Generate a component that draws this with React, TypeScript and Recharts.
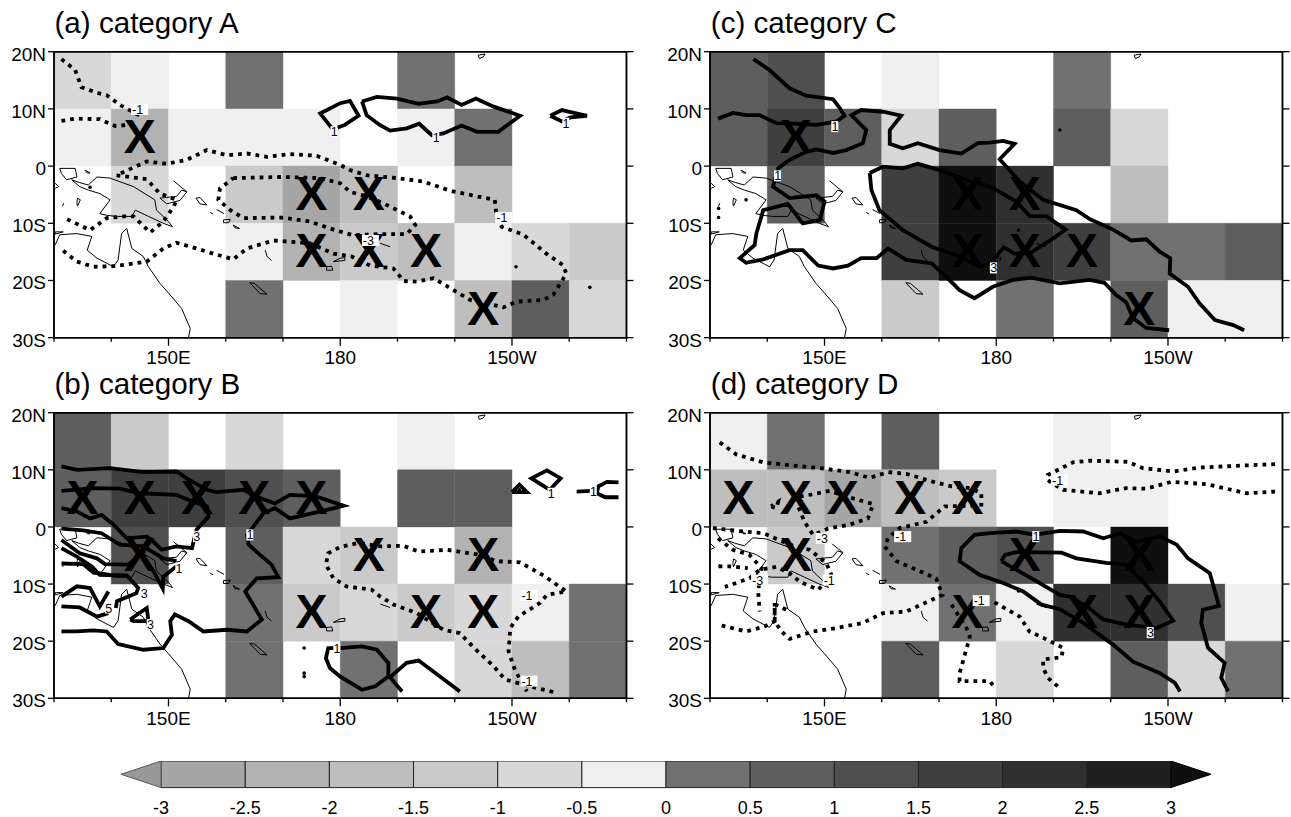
import React from "react";
import { ComposedChart, Line, ReferenceArea, Scatter, XAxis, YAxis } from "recharts";

type Pt = [number, number];
type Label = [number, number, string];

const FONT = "'Liberation Sans', Arial, sans-serif";

// colour bar
const barEdges = [-3, -2.5, -2, -1.5, -1, -0.5, 0, 0.5, 1, 1.5, 2, 2.5, 3];
const barShades = ["#a6a6a6", "#b2b2b2", "#bebebe", "#cacaca", "#d8d8d8", "#f0f0f0", "#717171", "#5e5e5e", "#4f4f4f", "#3f3f3f", "#303030", "#1f1f1f"];
const belowShade = "#999999";
const aboveShade = "#0f0f0f";

// grid
const lonStarts = [130, 140, 150, 160, 170, 180, 190, 200, 210, 220];
const latTops = [20, 10, 0, -10, -20];
const lonTicks = [130, 140, 150, 160, 170, 180, 190, 200, 210, 220, 230];
const latTicks = [20, 10, 0, -10, -20, -30];
const lonNames: Record<number, string> = { 150: "150E", 180: "180", 210: "150W" };
const latNames: Record<number, string> = { 20: "20N", 10: "10N", 0: "0", [-10]: "10S", [-20]: "20S", [-30]: "30S" };

const n = null;
const cellsA = [
  [-0.75, -0.25, n, 0.25, n, n, 0.25, n, n, n],
  [-0.25, -2.25, -0.25, -0.25, -0.25, n, -0.25, 0.25, n, n],
  [n, -0.75, n, -1.25, -2.75, -1.75, n, -1.75, n, n],
  [n, n, n, -0.25, -2.25, -1.25, -1.75, -0.25, -0.75, -1.25],
  [n, n, n, 0.25, n, -0.25, n, -1.75, 0.75, -0.75],
];
const cellsB = [
  [0.75, -1.25, n, -0.75, n, n, -0.25, n, n, n],
  [0.75, 1.75, 1.75, 1.25, 0.75, n, 0.75, 0.75, n, n],
  [n, 1.25, n, 0.75, -0.75, -1.25, n, -2.25, n, n],
  [n, n, n, 0.25, -1.25, -0.75, -1.25, -0.75, -0.25, 0.25],
  [n, n, n, 0.25, n, 0.25, n, -0.75, -1.75, 0.25],
];
const cellsC = [
  [0.75, 1.25, n, -0.25, n, n, 0.25, n, n, n],
  [0.75, 1.75, 0.75, -0.75, 0.75, n, 0.75, -0.75, n, n],
  [n, 0.75, n, 1.75, 3.5, 2.25, n, -1.75, n, n],
  [n, n, n, 1.75, 3.5, 2.25, 1.75, 0.25, 0.25, 0.75],
  [n, n, n, -1.25, n, 0.25, n, 0.75, -0.25, -0.25],
];
const cellsD = [
  [-0.25, 0.25, n, 0.75, n, n, -0.25, n, n, n],
  [-1.75, -1.75, -2.75, -1.75, -1.25, n, -0.25, -0.25, n, n],
  [n, -1.25, n, 0.25, 0.75, 1.25, n, 3.5, n, n],
  [n, n, n, -0.25, 0.25, -0.25, 2.25, 2.25, 1.25, -0.25],
  [n, n, n, 0.75, n, -0.75, n, 0.75, -0.75, 0.25],
];

// significance marks
const marksA: Pt[] = [[145, 5], [175, -5], [185, -5], [175, -15], [185, -15], [195, -15], [205, -25]];
const marksB: Pt[] = [[135, 5], [145, 5], [155, 5], [165, 5], [175, 5], [145, -5], [185, -5], [205, -5], [175, -15], [195, -15], [205, -15]];
const marksC: Pt[] = [[145, 5], [175, -5], [185, -5], [175, -15], [185, -15], [195, -15], [205, -25]];
const marksD: Pt[] = [[135, 5], [145, 5], [153.2, 5], [165, 5], [175, 5], [145, -5], [185, -5], [205, -5], [175, -15], [195, -15], [205, -15]];

// coast outlines (lon, lat)
const coast: Pt[][] = [
  [[130.2, -13.8], [131, -12], [134, -11.8], [136.6, -12.3], [135.8, -14.7], [137.5, -16.1], [140.4, -17.6], [141.2, -16.4], [141.8, -11.8], [142.7, -10.9], [143.6, -14.4], [145.6, -15.8], [146.5, -17.6], [148.5, -20.5], [150, -22.2], [152.3, -24.9], [153.8, -28.4], [153.5, -30]],
  [[133.1, -2.4], [134.5, -2.9], [136, -3.3], [137.5, -1.9], [139.8, -2.1], [143.9, -3.6], [147.6, -5.9], [147.9, -7.7], [150, -9.7], [150.7, -10.6], [149.1, -10], [146.5, -8.8], [144.2, -7.7], [143.6, -8.8], [140.9, -8.8], [139.2, -8.6], [138, -8.3], [139.8, -5.9], [138, -4.8], [136, -4.2], [134.5, -3.6], [133.1, -2.4]],
  [[131, -0.4], [133.7, -0.4], [134, -1.9], [132.2, -2.4], [131.3, -1.3], [131, -0.4]],
  [[135.4, -0.7], [136.3, -1.2], [135.8, -1.2], [135.4, -0.7]],
  [[134.1, -5.6], [134.6, -5.9], [134.1, -7], [134, -6.4], [134.1, -5.6]],
  [[131.5, -7], [131.7, -6.5]],
  [[130.2, -11.5], [131.6, -11.5], [130.2, -11.9], [130.2, -11.5]],
  [[130.2, -3], [130.8, -3.6], [130.2, -3.9]],
  [[148.5, -5.6], [151.4, -5.3], [152.3, -4.2], [153.2, -4.5], [152, -6], [149.7, -6.6], [148.5, -5.6]],
  [[150.9, -2.6], [153.2, -4.5]],
  [[154.8, -5.6], [155.5, -5.5], [156.7, -6.8], [155.5, -6.6], [154.8, -5.6]],
  [[157.3, -8.1], [157.8, -8.4]],
  [[158.4, -7.6], [159.7, -8.3]],
  [[159.6, -9.4], [160.8, -9.3], [160.5, -9.9], [159.6, -9.9], [159.6, -9.4]],
  [[161.3, -10.3], [162.4, -10.9], [161.6, -10.8], [161.3, -10.3]],
  [[166.9, -14.7], [167.2, -15.8], [168, -16.5]],
  [[164.2, -20.4], [165, -20.5], [167.2, -22.4], [166, -22.3], [164.2, -20.4]],
  [[177.6, -17.6], [178.5, -17.5], [178.7, -18.2], [177.6, -18.2], [177.6, -17.6]],
  [[178.8, -16.7], [180, -16.1], [180.8, -16], [180.8, -16.5], [178.8, -16.7]],
  [[187, -13.5], [188.7, -14.1]],
  [[204.1, 19.4], [205.3, 19.6], [205, 19.1], [204.3, 18.8], [204.1, 19.4]],
];

// panel (a)
const dottedA: Pt[][] = [
  [[131.3, 18.7], [133.7, 16.8], [134.8, 13.8], [137.5, 12.8], [139.2, 12.4], [141.5, 10.7], [145.6, 8.5]],
  [[131.3, 7.9], [133.7, 8.3], [138, 8.2], [140.7, 7], [143.9, 7.3]],
  [[131.6, -14.8], [134, -16.7], [136.9, -17.6], [140.4, -17.5], [146.2, -16.7], [149.1, -14.4], [151.4, -13.4], [154.9, -14.4], [157.8, -15.3], [161.3, -16.3], [163.7, -14.4], [168.3, -13], [174.7, -13.5], [178.8, -15.3], [182, -15.8], [185.2, -17.4], [189.3, -17.9], [191.1, -20.1], [193.4, -20.2], [196.3, -19.6], [200.3, -22], [202.7, -23.4], [205.6, -24], [208.5, -24.7], [210.8, -23.7], [215.5, -23.4], [217.2, -22.5], [219.5, -18.8], [218.9, -17.3], [216, -15.3], [212, -12], [208.2, -10.6], [207.3, -8.8], [207, -5.9], [203.9, -5.3], [199.2, -4.3], [194.5, -2.7], [189.9, -2.1], [184.6, -1.6], [181.7, -0.7], [180, 0.2], [175.9, 1.8], [171.2, 2.1], [167.2, 1.6], [163.7, 2.2], [160.2, 1.9], [156.7, 2.8], [153.2, 1.1], [149.7, 0.4], [146.2, 0.8], [140.9, -1.6], [146.2, -2.3], [148.5, -4.8], [151.4, -5.9], [150.9, -7.1], [149.1, -9.7], [146.8, -11.6], [143.9, -8.8], [142.1, -8.8], [139.2, -9.1], [136.3, -11.2], [131.9, -9.1]],
  [[161.3, -2.1], [170.1, -1.9], [176.5, -2.1], [180, -3], [181.7, -4.5], [184.6, -5.3], [187.5, -6.5], [192.2, -8.8], [193.1, -10.3], [191.6, -11.9], [186.4, -11.9], [182.3, -12.1], [179.1, -11.2], [174.7, -9.7], [170.1, -9], [163.1, -9.1], [160.8, -7.7], [158.7, -5.9], [159, -3.9], [161.3, -2.1]],
];
const solidA: Pt[][] = [
  [[178.8, 6.3], [176.5, 9.2], [180, 11], [181.7, 11.4], [183.2, 8.8], [180.8, 7.2], [179.5, 6.7]],
  [[183.8, 11.3], [186.4, 12.1], [189.9, 11.8], [193.7, 10.9], [196.9, 11.3], [198.7, 12], [201.2, 10.7], [203.7, 11.8], [206.8, 10.4], [211.4, 8.8], [207.6, 6], [203.9, 6], [201.2, 7.1], [198, 5.7], [196, 5.4], [193.8, 7.4], [191.6, 6.6], [188.7, 6.2], [186.9, 7.2], [184.6, 8.9], [183.8, 11.3]],
  [[216.7, 8.8], [218.7, 9.8], [223.1, 8.8], [220.2, 8.5], [218.7, 7.8], [216.7, 8.8]],
];
const labelsA: Label[] = [[144.7, 9.9, "-1"], [178.9, 6, "1"], [196.7, 5, "1"], [219.4, 7.5, "1"], [185, -13, "-3"], [208.3, -9, "-1"]];
const specksA: Pt[] = [[136.3, -3.7], [210.7, -17.6], [223.6, -21.2]];

// panel (b)
const dottedB: Pt[][] = [
  [[217.2, -28.9], [213.1, -27.9], [208.8, -26.7], [206.8, -24.4], [203.3, -21.1], [200.9, -18.6], [198, -18], [193.4, -15.1], [189.3, -13.6], [187, -12.2], [185.5, -11], [181.1, -10.4], [178.8, -9], [177.5, -6.6], [177.9, -4.6], [180, -3.5], [183.2, -2.8], [187, -3.4], [191, -3.3], [193.7, -4.3], [198.6, -4], [203.9, -4.8], [207.3, -6], [211.4, -6.2], [215.5, -8.5], [219.5, -11.3], [216.1, -11.9], [214.9, -13.3], [211.1, -15.7], [209.7, -17.7], [209.4, -21.8], [210.5, -25], [212.6, -28.8]],
];
const solidB: Pt[][] = [
  [[131.3, 10.6], [134, 10], [139.8, 10.3], [145.6, 9.6], [151.4, 9.7], [153.2, 8.5], [156.7, 6.5], [158.4, 6.1], [163.1, 6.5], [165.4, 5.3], [168.6, 4.1], [171.2, 5.6], [175.6, 5.4], [180.6, 3.7], [177.3, 2.9], [171.2, 1.5], [168.6, 3.3], [166.6, 2.4], [163.7, -1.4], [164, -3.1], [166, -4.9], [168, -6.6], [169.2, -8.8], [165.4, -9], [163.4, -11.3], [166.3, -16.2], [163.7, -18.3], [160.2, -18], [156.1, -18.3], [153.5, -16.5], [151.1, -15.3], [150.3, -16.5], [150.6, -18.9], [149.1, -21.2], [145.6, -21.5], [141.2, -20.5], [139.2, -18.3], [136.9, -18.1], [134, -18.3], [131.3, -18.3]],
  [[131.3, 6.3], [136.9, 6.8], [141.5, 6.7], [145, 5.9], [151.4, 5.6], [154.3, 4.4], [156.7, 3.6], [157, 1.8], [154.9, -0.5], [154.1, -3.7], [151.4, -3.4], [148.8, -4], [147.4, -2.6], [146.2, -1.7], [142.7, -2], [140.4, 0.4], [138.3, 2.1], [136.3, 1.5], [134, 2.7], [131.3, 3.3]],
  [[131.3, -0.3], [135.1, -0.6], [138.3, -1.1], [141.5, -3.1], [145.6, -3.4], [149.1, -5.5], [151.4, -6]],
  [[131.3, -2.3], [134.5, -4.6], [137.5, -5.5], [138.9, -6.5], [143, -6.6], [145, -4.9], [146.8, -1.7]],
  [[143, -1.7], [145, -4.6], [147.4, -7.8], [149, -10.8], [149.1, -8.7], [151.4, -6.9]],
  [[131.3, -3.7], [134, -5.2], [136.6, -6.9], [138, -8.4], [142.7, -8.5], [144.7, -10.7], [144.4, -11.6], [141, -13], [140.8, -14.2]],
  [[131.3, -6.4], [135.1, -6.5], [136.9, -8], [139.8, -8.4]],
  [[131.3, -12.2], [134, -10.4], [136.3, -10.7], [138, -13.9], [139.5, -11.3]],
  [[131.3, -13.9], [134.5, -14.1], [137.5, -15.7], [139.5, -15.1]],
  [[143.3, -16.2], [146.2, -14.2], [146.5, -16.5], [143.9, -16.5], [143.3, -16.2]],
  [[179.4, -21.2], [177.9, -21.2], [177.5, -23], [178.2, -24.7], [180, -26.2], [183.8, -28.5], [186.1, -27.9], [188.4, -26.2], [188.4, -23.8], [186.4, -21.5], [183.8, -20.9], [180, -21.2]],
  [[190.8, -28.8], [188.7, -26.3], [191.6, -23.8], [193.7, -23.4], [200.9, -28.8]],
  [[210, 6.1], [211.3, 7.4], [212.6, 6.1], [210, 6.1]],
  [[216.6, 6.5], [213.4, 8.5], [216.1, 9.9], [218.5, 8.5], [216.6, 6.5]],
  [[221.3, 6.2], [223.8, 6.3]],
  [[228.6, 7.8], [226.6, 7.9], [225.1, 7.1], [224.8, 5.9], [226.3, 5.2], [228.6, 5.2]],
];
const labelsB: Label[] = [[154.9, -1.7, "3"], [164.2, -1.4, "1"], [151.8, -7.2, "1"], [145.7, -11.6, "3"], [139.5, -14.2, "5"], [146.8, -17.1, "3"], [179.4, -21.2, "1"], [216.8, 5.9, "1"], [224.2, 6.2, "1"], [212.7, -12, "-1"], [212.7, -27, "-1"]];
const specksB: Pt[] = [[173.7, -21.2], [173.7, -26.2], [173.7, -25.6], [211.3, 6.5]];

// panel (c)
const solidC: Pt[][] = [
  [[137.6, 18.7], [140.4, 16.8], [143.9, 13.6], [146.8, 12.3], [151.5, 11.7], [152.7, 10.1], [153.5, 8.8], [152.1, 7.8], [148.6, 7.2], [145.1, 7.4], [141.6, 7.5], [138.7, 8.9], [136.3, 8.9], [134, 9.3], [131.4, 8.3]],
  [[223.3, -28.7], [221.4, -27.8], [218.2, -26.9], [215.5, -24], [213.5, -21.1], [210.3, -18.8], [210.4, -16.1], [208.6, -15], [206.2, -12.8], [203.6, -13], [200.4, -11.1], [196.4, -9.3], [194, -7.7], [188.2, -5.9], [184.1, -2.7], [180.6, 1.2], [183.2, 3.9], [181.2, 4.4], [178.9, 4.1], [176.8, 4], [173.9, 2.2], [170.1, 2.8], [166.3, 4], [163.7, 3.1], [161.4, 3.9], [161.4, 6.3], [163.4, 8.8], [160.2, 9.5], [156.4, 9.8], [154.7, 8.9], [157.3, 6.3], [156.7, 4], [153.8, 2.8], [151.5, 2.3], [148.6, 2.9], [146.8, 2.5], [143.9, 1.1], [141.9, -0.4], [141, -3.6], [143.9, -5.6], [148.6, -5.1], [150, -6.2], [149.2, -9.4], [146.2, -10], [143.6, -6.6], [139.3, -7.7], [138.1, -11.8], [137.8, -13.8], [135.2, -16.1], [136.3, -16.9], [139.3, -16.3], [143.9, -14.7], [146.2, -14.7], [148.9, -17.4], [151.5, -17.9], [154.1, -17.4], [156.4, -16.1], [159.1, -16.1], [161.1, -14.4], [164.3, -16.4], [168.7, -17], [170.7, -18.8], [173.6, -21.7], [176.2, -23.1], [179.4, -21.1], [182.9, -19.9], [186.1, -19.5], [191.1, -20.5], [196.3, -19.9], [198.9, -20.4], [201, -22.6], [202.7, -23.8], [203.9, -26.6], [206.2, -28.3], [210.2, -28.7]],
  [[157.9, -1.2], [160.2, -0.1], [163.7, -0.4], [166.3, 0.4], [170.1, -0.7], [174.8, -2.4], [178.9, -3.6], [180.6, -4.5], [183.5, -6.2], [185.8, -8.7], [188.8, -8.8], [192.1, -11.1], [189.7, -12.8], [186.1, -15.1], [183.2, -15.3], [181.3, -14.2], [178.9, -17], [177.1, -17.6], [173.6, -15.8], [168.7, -14.1], [163.7, -11.2], [159.6, -7.7], [158.2, -4.2], [157.9, -1.2]],
];
const labelsC: Label[] = [[151.8, 6.9, "1"], [141.8, -1.7, "1"], [179.5, -17.8, "3"]];
const specksC: Pt[] = [[191.1, 6.3], [136.3, -5.9], [131.5, -9], [183.9, -11.2], [131.5, -7.4]];

// panel (d)
const dottedD: Pt[][] = [
  [[131.7, 14.8], [134.6, 12.7], [139.3, 11.3], [145.1, 10.7], [150, 10.2], [154.4, 9.6], [157.9, 8.6], [161.1, 9.6], [164.3, 9.3], [169, 7.9], [172.2, 7.1], [175.4, 6.8], [177.4, 5.9], [177.4, 3.9], [175.4, 3.7], [171, 3.6], [167.8, 0.9], [163.1, -0.2], [161.1, -2], [160.5, -3.4], [162.6, -6], [166.1, -7.5], [169.5, -9], [170.6, -11.9], [167.8, -13.2], [164.3, -14.8], [160.2, -15.1], [156.7, -16.8], [152.1, -17.7], [148, -18.3], [143.9, -19.6], [142.5, -18.3], [141.3, -16.5], [141.3, -13.3], [141.3, -16.5], [139.6, -17.4], [136.3, -18.3], [131.4, -17.1]],
  [[140.7, 3.6], [141.6, 3.3], [141.9, 4.4], [140.7, 3.6]],
  [[145.7, 5.3], [150.9, 6.3], [155, 5], [158.5, 4], [157.6, 1.5], [154.4, 0.4], [150.6, -0.3], [148, -1.4], [146.5, 0.9], [145.4, 3.6]],
  [[130.5, -0.2], [134.9, -0.7], [139.3, -1.1], [143.9, -3.1], [147.4, -4], [150.3, -6.3], [151.2, -8.4], [148.9, -11], [145.7, -9.6], [143.9, -8.1], [141.6, -7], [138.7, -7.5], [136.9, -9], [132.6, -10.5]],
  [[131.4, -2], [134, -4], [136.9, -4.9], [139, -7.2], [138.4, -11.3], [138.7, -14.8]],
  [[131.5, -6.9], [133.4, -6.9], [136.6, -7.2]],
  [[143.3, -14.5], [141.5, -13.6]],
  [[172.2, -13.6], [174.8, -17.7], [175.4, -19.2], [174.5, -22.4], [173.6, -25.6], [173.6, -27], [178.9, -27], [179.8, -28.2]],
  [[179.7, -13.2], [184.1, -15.7], [185.8, -18.3], [188.8, -19.7], [191.7, -21.2], [191.4, -22.8], [188.2, -23.2], [188.2, -24.7], [189, -26.4], [191.4, -28.5]],
  [[228.7, 11], [222, 10.7], [215.5, 10.4], [210.9, 9.7], [205.6, 10.3], [203, 11.4], [196.3, 11.6], [193.4, 11.3], [190.2, 9.7], [189, 9.1], [189, 8.2], [190.2, 7.4], [191.7, 6.5], [198, 5.9], [202.7, 6.8], [206.2, 6.7], [210.6, 7.9], [216.7, 7.5], [223.7, 5.9], [228.7, 6.2]],
];
const solidD: Pt[][] = [
  [[212.1, -28.8], [211.2, -27.3], [208.6, -25.6], [203.9, -23.6], [200.4, -20.6], [195.2, -16.8], [191.1, -14.4], [187.9, -13.6], [184.7, -11.3], [181.2, -9.8], [177.1, -8.4], [173.6, -6], [173.9, -3.7], [176.2, -1.4], [178.9, -1.1], [183.5, -0.8], [186.7, -1.4], [191.1, -0.7], [195.2, -0.8], [198.7, -2], [201.6, -1.1], [204.5, -2.6], [208.6, -1.7], [211.5, -3.1], [213.5, -5.5], [217.3, -8.1], [217.9, -10.2], [218.9, -13.8], [216.1, -14.5], [215.8, -16.8], [217, -21.2], [219.9, -23.8], [219.3, -26.4], [220.5, -28.8]],
  [[180.9, -6], [181.5, -4.9], [183.5, -4.4], [191.4, -4.5], [194, -5.5], [199.2, -6.3], [202.7, -6.6], [205.6, -9.5], [208.5, -13], [210.9, -16.4], [208, -17.7], [202.7, -17.1], [198.7, -16.2], [195.8, -13.9], [192.8, -12.2], [191.1, -11.9], [187, -9.5], [183, -7.2], [180.9, -6]],
];
const labelsD: Label[] = [[149.7, -2, "-3"], [163.4, -1.7, "-1"], [150.9, -9.3, "-1"], [138.4, -9.3, "-3"], [177.1, -12.9, "-1"], [190.8, 8.2, "-1"], [186.9, -1.7, "1"], [206.9, -18.5, "3"]];
const specksD: Pt[] = [[183.9, -11.2]];

const shadeFor = (v: number) => {
  if (v < barEdges[0]) return belowShade;
  if (v > barEdges[barEdges.length - 1]) return aboveShade;
  const i = barEdges.findIndex((e, k) => v >= e && v < barEdges[k + 1]);
  return barShades[i];
};

const toRows = (pts: Pt[]) => pts.map(([lon, lat]) => ({ lon, lat }));

const MajorBottom = (p: any) => {
  const name = lonNames[p.payload.value];
  return (
    <g>
      <line x1={p.x} x2={p.x} y1={p.y} y2={p.y + (name ? 8 : 4)} stroke="#000" strokeWidth={1.3} />
      {name && (
        <text x={p.x} y={p.y + 26.5} textAnchor="middle" fontSize={19} fontFamily={FONT} fill="#000">
          {name}
        </text>
      )}
    </g>
  );
};
const MajorTop = (p: any) => (
  <line x1={p.x} x2={p.x} y1={p.y} y2={p.y - (lonNames[p.payload.value] ? 8 : 4)} stroke="#000" strokeWidth={1.3} />
);
const LeftTick = (p: any) => (
  <g>
    <line x1={p.x} x2={p.x - 6} y1={p.y} y2={p.y} stroke="#000" strokeWidth={1.3} />
    <text x={p.x - 8} y={p.y + 9} textAnchor="end" fontSize={19} fontFamily={FONT} fill="#000">
      {latNames[p.payload.value]}
    </text>
  </g>
);
const RightTick = (p: any) => <line x1={p.x} x2={p.x + 7} y1={p.y} y2={p.y} stroke="#000" strokeWidth={1.3} />;

const MarkX = (p: any) => (
  <text x={p.cx} y={p.cy + 15.5} textAnchor="middle" fontSize={48} fontWeight="bold" fontFamily={FONT} fill="#000">
    X
  </text>
);
const Speck = (p: any) => <circle cx={p.cx} cy={p.cy} r={1.8} fill="#000" />;
const ContourLabel = (p: any) => {
  const text = p.payload.text as string;
  const dashed = text.startsWith("-");
  return (
    <g>
      <rect x={p.cx - (dashed ? 7 : 3.5)} y={p.cy - 5.5} width={dashed ? 17 : 7} height={11} fill="#fff" />
      <text x={p.cx - (dashed ? 6 : 3.2)} y={p.cy + 4.5} fontSize={12.5} fontFamily={FONT} fill="#000">
        {text}
      </text>
    </g>
  );
};

type PanelProps = {
  left: number;
  top: number;
  marginTop: number;
  plotHeight: number;
  title: string;
  cells: (number | null)[][];
  marks: Pt[];
  dotted: Pt[][];
  solid: Pt[][];
  labels: Label[];
  specks: Pt[];
};

function MapPanel({ left, top, marginTop, plotHeight, title, cells, marks, dotted, solid, labels, specks }: PanelProps) {
  return (
    <div style={{ position: "absolute", left, top }}>
      <div style={{ position: "absolute", left: 54.5, top: marginTop - 46, fontFamily: FONT, fontSize: 29.6, lineHeight: "34px", whiteSpace: "nowrap", color: "#000", zIndex: 2 }}>
        {title}
      </div>
      <ComposedChart
        width={634.7}
        height={marginTop + plotHeight + 32}
        margin={{ top: marginTop - 1, right: 7.2, bottom: 0, left: 14 }}
      >
        <XAxis
          dataKey="lon"
          type="number"
          domain={[130, 230]}
          ticks={lonTicks}
          interval={0}
          height={32}
          tickSize={0}
          tickMargin={0}
          tick={MajorBottom}
          axisLine={{ stroke: "#000", strokeWidth: 1.5 }}
          allowDataOverflow
        />
        <XAxis
          xAxisId="top"
          orientation="top"
          type="number"
          domain={[130, 230]}
          ticks={lonTicks}
          interval={0}
          height={1}
          tickSize={0}
          tickMargin={0}
          tick={MajorTop}
          axisLine={{ stroke: "#000", strokeWidth: 1.5 }}
          allowDataOverflow
        />
        <YAxis
          dataKey="lat"
          type="number"
          domain={[-30, 20]}
          ticks={latTicks}
          interval={0}
          width={40}
          tickSize={0}
          tickMargin={0}
          tick={LeftTick}
          axisLine={{ stroke: "#000", strokeWidth: 1.5 }}
          allowDataOverflow
        />
        <YAxis
          yAxisId="right"
          orientation="right"
          type="number"
          domain={[-30, 20]}
          ticks={latTicks}
          interval={0}
          width={1}
          tickSize={0}
          tickMargin={0}
          tick={RightTick}
          axisLine={{ stroke: "#000", strokeWidth: 1.5 }}
          allowDataOverflow
        />
        {cells.flatMap((row, r) =>
          row.map((v, c) =>
            v === null ? null : (
              <ReferenceArea
                key={`cell-${r}-${c}`}
                x1={lonStarts[c]}
                x2={lonStarts[c] + 10}
                y1={latTops[r]}
                y2={latTops[r] - 10}
                fill={shadeFor(v)}
                fillOpacity={1}
                stroke={shadeFor(v)}
                strokeWidth={0.4}
              />
            ),
          ),
        )}
        <ReferenceArea x1={130} x2={230} y1={-30} y2={20} fill="none" stroke="#000" strokeWidth={1.5} />
        {coast.map((pts, i) => (
          <Line key={`coast-${i}`} data={toRows(pts)} dataKey="lat" type="linear" stroke="#000" strokeWidth={1} dot={false} activeDot={false} legendType="none" isAnimationActive={false} />
        ))}
        <Scatter data={toRows(marks)} shape={MarkX} isAnimationActive={false} legendType="none" />
        {dotted.map((pts, i) => (
          <Line key={`dot-${i}`} data={toRows(pts)} dataKey="lat" type="linear" stroke="#000" strokeWidth={3.8} strokeDasharray="3.8 5" dot={false} activeDot={false} legendType="none" isAnimationActive={false} />
        ))}
        {solid.map((pts, i) => (
          <Line key={`solid-${i}`} data={toRows(pts)} dataKey="lat" type="linear" stroke="#000" strokeWidth={3.8} dot={false} activeDot={false} legendType="none" isAnimationActive={false} />
        ))}
        <Scatter data={toRows(specks)} shape={Speck} isAnimationActive={false} legendType="none" />
        <Scatter
          data={labels.map(([lon, lat, text]) => ({ lon, lat, text }))}
          shape={ContourLabel}
          isAnimationActive={false}
          legendType="none"
        />
      </ComposedChart>
    </div>
  );
}

const TipLeft = (p: any) => (
  <polygon points={`${p.x},${p.y + p.height / 2} ${p.x + p.width},${p.y} ${p.x + p.width},${p.y + p.height}`} fill={belowShade} stroke="#555" strokeWidth={1} />
);
const TipRight = (p: any) => (
  <polygon points={`${p.x + p.width},${p.y + p.height / 2} ${p.x},${p.y} ${p.x},${p.y + p.height}`} fill={aboveShade} stroke="#000" strokeWidth={1} />
);
const BarTick = (p: any) => (
  <text x={p.x} y={p.y + 26.8} textAnchor="middle" fontSize={18} fontFamily={FONT} fill="#000">
    {p.payload.value}
  </text>
);

function ColorBar() {
  const tipSpan = 0.238;
  return (
    <div style={{ position: "absolute", left: 121, top: 760.7 }}>
      <ComposedChart width={1090} height={56.3} margin={{ top: 0, right: 0, bottom: 0, left: 0 }}>
        <XAxis
          type="number"
          dataKey="v"
          domain={[barEdges[0] - tipSpan, barEdges[12] + tipSpan]}
          ticks={barEdges}
          interval={0}
          height={29.7}
          tickSize={0}
          tickMargin={0}
          tick={BarTick}
          axisLine={false}
          allowDataOverflow
        />
        <YAxis type="number" dataKey="h" domain={[0, 1]} hide width={0} allowDataOverflow />
        {barShades.map((shade, i) => (
          <ReferenceArea key={shade} x1={barEdges[i]} x2={barEdges[i + 1]} y1={0} y2={1} fill={shade} fillOpacity={1} stroke="#222" strokeWidth={1} />
        ))}
        <ReferenceArea x1={barEdges[0] - tipSpan} x2={barEdges[0]} y1={0} y2={1} shape={TipLeft} />
        <ReferenceArea x1={barEdges[12]} x2={barEdges[12] + tipSpan} y1={0} y2={1} shape={TipRight} />
      </ComposedChart>
    </div>
  );
}

export default function App() {
  return (
    <div style={{ position: "absolute", left: 0, top: 0, width: 1291, height: 817, overflow: "hidden", background: "#fff" }}>
      <MapPanel left={0} top={0} marginTop={51.7} plotHeight={286} title="(a) category A" cells={cellsA} marks={marksA} dotted={dottedA} solid={solidA} labels={labelsA} specks={specksA} />
      <MapPanel left={0} top={360} marginTop={52.7} plotHeight={285.6} title="(b) category B" cells={cellsB} marks={marksB} dotted={dottedB} solid={solidB} labels={labelsB} specks={specksB} />
      <MapPanel left={656.3} top={0} marginTop={51.7} plotHeight={286} title="(c) category C" cells={cellsC} marks={marksC} dotted={[]} solid={solidC} labels={labelsC} specks={specksC} />
      <MapPanel left={656.3} top={360} marginTop={52.7} plotHeight={285.6} title="(d) category D" cells={cellsD} marks={marksD} dotted={dottedD} solid={solidD} labels={labelsD} specks={specksD} />
      <ColorBar />
    </div>
  );
}
